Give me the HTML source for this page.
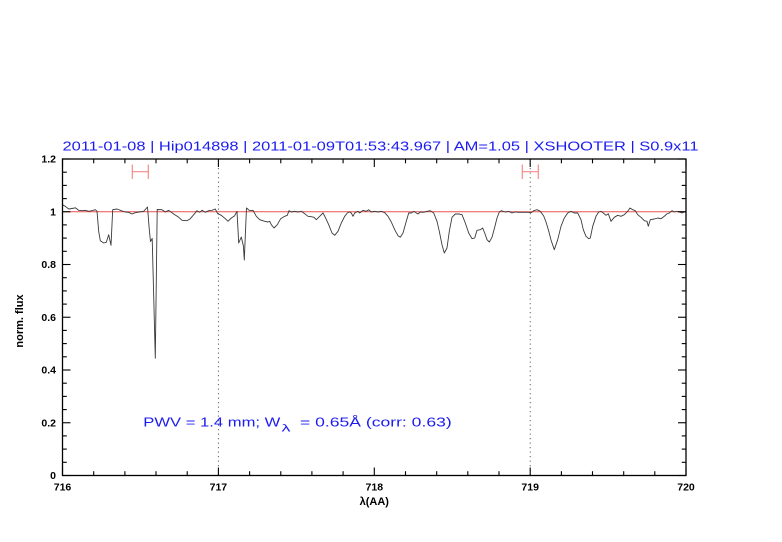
<!DOCTYPE html>
<html>
<head>
<meta charset="utf-8">
<style>
html,body{margin:0;padding:0;background:#fff;}
svg{display:block;}
text{font-family:"Liberation Sans",sans-serif;}
</style>
</head>
<body>
<svg width="782" height="542" viewBox="0 0 782 542" xmlns="http://www.w3.org/2000/svg">
<rect x="0" y="0" width="782" height="542" fill="#fff"/>

<!-- title -->
<text x="62.5" y="150.5" font-size="13" fill="#1c1cf0" textLength="636" lengthAdjust="spacingAndGlyphs">2011-01-08 | Hip014898 | 2011-01-09T01:53:43.967 | AM=1.05 | XSHOOTER | S0.9x11</text>

<!-- dotted verticals -->
<line x1="218.4" y1="159" x2="218.4" y2="475.5" stroke="#555" stroke-width="0.9" stroke-dasharray="1.2,3.3"/>
<line x1="530.2" y1="159" x2="530.2" y2="475.5" stroke="#555" stroke-width="0.9" stroke-dasharray="1.2,3.3"/>

<!-- reference line at 1 -->
<line x1="62.5" y1="211.7" x2="686" y2="211.7" stroke="#ee5050" stroke-width="1"/>

<!-- error bars -->
<g stroke="#f78a8a" stroke-width="1.2" fill="none">
<line x1="132.3" y1="171.7" x2="148.3" y2="171.7"/>
<line x1="132.3" y1="164.5" x2="132.3" y2="179"/>
<line x1="148.3" y1="164.5" x2="148.3" y2="179"/>
<line x1="522.3" y1="171.7" x2="538.3" y2="171.7"/>
<line x1="522.3" y1="164.5" x2="522.3" y2="179"/>
<line x1="538.3" y1="164.5" x2="538.3" y2="179"/>
</g>

<!-- spectrum -->
<polyline fill="none" stroke="#3a3a3a" stroke-width="0.9" stroke-linejoin="round" points="
62,204.5 65.3,206.3 68.7,209 72,208.5 75.3,207.8 78.7,210.3 82,210.7 85.3,210.3 88.7,211.3 92,210.7 95.3,209.7 97,211.3
98.7,231.3 100.3,240.7 103.7,243 106.3,242.3 108.7,234.7 111,245.3 112.7,209.7 117,209 121.3,210.7 125.3,212 128.7,212.3
132,214 135.3,212.7 139.3,212 143.7,211.3 147.5,207 149.3,229.7 150.5,241.5 152.2,238.5 155.3,358.3 157.2,209.5 162,209.7
165.3,212 168.7,210.3 173.7,214 178.7,217.3 182,220.3 187,220.7 190.3,218.7 193.7,214.7 197,210.7 199.7,212.3 202,210.3
205.3,212.3 208.7,210.7 212,210.3 215.3,209 217.7,213.7 221.3,215.3 225.3,218.7 228,221.3 231.3,218 234.7,215.7 237,211.3
238.7,243 241.3,237 243.4,246 244.3,260 245.5,231 246.5,208 249.7,210.7 253,210.3 256.3,216.3 259.7,219.7 264.7,221.3
268,222 269.7,221.3 271.3,224.7 274,228 277.3,224.7 280.7,218.7 284.7,216.3 287.3,215.3 289,210.7 291.3,212 294.7,211.3
298,212 301.3,211.3 304.7,213.7 308,216.3 311.3,216.7 314,217.3 316.3,219.7 319.7,216.3 323,213 325.3,217.3 328.7,224.7
332,233 334.7,235.3 338,231.3 341.3,223 344.7,216.3 347.3,213 349.7,212 351.3,213 353,216.3 354.7,213 358,211.3 359.7,213
363,210.3 366.3,211.3 368.7,209.7 371.3,212 374.7,211.3 378,212 381.3,211.3 384.7,212.7 388,216.3 391.3,222 394.7,229.7
398,235.7 400.3,237.3 403,233 406.3,221.3 408.7,213 411.3,213 414,211.3 416.3,213 418,214 420.3,212 423.7,212.3 427,211.3
430.3,210.7 433.7,213 437,221.3 439.3,231.3 442,244.7 444.3,253 447,248 449.3,231.3 452,217.3 455.3,214 458.7,214 462,214.7
465.3,223 468.7,233 472,238.7 474.7,238 477,230.3 480.3,229.7 482.7,228 484.7,233 487,239.7 489.3,242 492,237.3 494.7,227.3
497,218 499.3,212 501.3,210.7 505.3,212 508.7,211.3 512,213 515.3,212 518.7,212.3 523.7,212.3 528.7,212.3 531.3,212.7
533.7,210.7 537,209.7 540.3,211.3 543.7,216 546,222 548.7,231 551,240 554.3,249.7 557.7,239.7 561,226.3 564.3,218 567.7,213
571,211.3 574.3,213 577.7,213 581,219.7 583.3,229.7 586,236.3 588.7,238.7 590.3,238 592.7,226.3 596,216.3 598.7,212 601,211.3
603.3,213 606,215.3 608.3,213.7 611,221.3 614.3,217.3 617.7,215.3 621,216.3 624.3,214.7 627.7,211.3 630,208 632.7,209.7
635.3,210.7 637.7,214.7 641,217.3 644.3,220.7 647,221.3 648.3,226.3 650.3,219.7 654.3,219 657.7,218 661,218.7 664.3,216.3
666.7,214 669.3,213 672,210.7 674.3,212 676.7,211.3 679.3,212 682,213 684.3,212 686,211.3"/>

<!-- frame -->
<rect x="62.5" y="159" width="623.5" height="316.5" fill="none" stroke="#000" stroke-width="1.3"/>

<!-- x ticks (bottom & top) -->
<g stroke="#000" stroke-width="1.1">
<line x1="62.5" y1="475.5" x2="62.5" y2="467.5"/><line x1="62.5" y1="159" x2="62.5" y2="167"/>
<line x1="218.4" y1="475.5" x2="218.4" y2="467.5"/><line x1="218.4" y1="159" x2="218.4" y2="167"/>
<line x1="374.3" y1="475.5" x2="374.3" y2="467.5"/><line x1="374.3" y1="159" x2="374.3" y2="167"/>
<line x1="530.2" y1="475.5" x2="530.2" y2="467.5"/><line x1="530.2" y1="159" x2="530.2" y2="167"/>
<line x1="686" y1="475.5" x2="686" y2="467.5"/><line x1="686" y1="159" x2="686" y2="167"/>
<line x1="93.7" y1="475.5" x2="93.7" y2="471.2"/><line x1="93.7" y1="159" x2="93.7" y2="163.3"/>
<line x1="124.9" y1="475.5" x2="124.9" y2="471.2"/><line x1="124.9" y1="159" x2="124.9" y2="163.3"/>
<line x1="156.0" y1="475.5" x2="156.0" y2="471.2"/><line x1="156.0" y1="159" x2="156.0" y2="163.3"/>
<line x1="187.2" y1="475.5" x2="187.2" y2="471.2"/><line x1="187.2" y1="159" x2="187.2" y2="163.3"/>
<line x1="249.6" y1="475.5" x2="249.6" y2="471.2"/><line x1="249.6" y1="159" x2="249.6" y2="163.3"/>
<line x1="280.8" y1="475.5" x2="280.8" y2="471.2"/><line x1="280.8" y1="159" x2="280.8" y2="163.3"/>
<line x1="311.9" y1="475.5" x2="311.9" y2="471.2"/><line x1="311.9" y1="159" x2="311.9" y2="163.3"/>
<line x1="343.1" y1="475.5" x2="343.1" y2="471.2"/><line x1="343.1" y1="159" x2="343.1" y2="163.3"/>
<line x1="405.5" y1="475.5" x2="405.5" y2="471.2"/><line x1="405.5" y1="159" x2="405.5" y2="163.3"/>
<line x1="436.7" y1="475.5" x2="436.7" y2="471.2"/><line x1="436.7" y1="159" x2="436.7" y2="163.3"/>
<line x1="467.8" y1="475.5" x2="467.8" y2="471.2"/><line x1="467.8" y1="159" x2="467.8" y2="163.3"/>
<line x1="499.0" y1="475.5" x2="499.0" y2="471.2"/><line x1="499.0" y1="159" x2="499.0" y2="163.3"/>
<line x1="561.4" y1="475.5" x2="561.4" y2="471.2"/><line x1="561.4" y1="159" x2="561.4" y2="163.3"/>
<line x1="592.5" y1="475.5" x2="592.5" y2="471.2"/><line x1="592.5" y1="159" x2="592.5" y2="163.3"/>
<line x1="623.7" y1="475.5" x2="623.7" y2="471.2"/><line x1="623.7" y1="159" x2="623.7" y2="163.3"/>
<line x1="654.8" y1="475.5" x2="654.8" y2="471.2"/><line x1="654.8" y1="159" x2="654.8" y2="163.3"/>
</g>

<!-- y ticks (left & right) -->
<g stroke="#000" stroke-width="1.1">
<line x1="62.5" y1="475.5" x2="70.5" y2="475.5"/><line x1="686" y1="475.5" x2="678" y2="475.5"/>
<line x1="62.5" y1="422.75" x2="70.5" y2="422.75"/><line x1="686" y1="422.75" x2="678" y2="422.75"/>
<line x1="62.5" y1="370" x2="70.5" y2="370"/><line x1="686" y1="370" x2="678" y2="370"/>
<line x1="62.5" y1="317.25" x2="70.5" y2="317.25"/><line x1="686" y1="317.25" x2="678" y2="317.25"/>
<line x1="62.5" y1="264.5" x2="70.5" y2="264.5"/><line x1="686" y1="264.5" x2="678" y2="264.5"/>
<line x1="62.5" y1="211.75" x2="70.5" y2="211.75"/><line x1="686" y1="211.75" x2="678" y2="211.75"/>
<line x1="62.5" y1="159" x2="70.5" y2="159"/><line x1="686" y1="159" x2="678" y2="159"/>
<line x1="62.5" y1="462.3" x2="66.8" y2="462.3"/><line x1="686" y1="462.3" x2="681.7" y2="462.3"/>
<line x1="62.5" y1="449.1" x2="66.8" y2="449.1"/><line x1="686" y1="449.1" x2="681.7" y2="449.1"/>
<line x1="62.5" y1="435.9" x2="66.8" y2="435.9"/><line x1="686" y1="435.9" x2="681.7" y2="435.9"/>
<line x1="62.5" y1="409.6" x2="66.8" y2="409.6"/><line x1="686" y1="409.6" x2="681.7" y2="409.6"/>
<line x1="62.5" y1="396.4" x2="66.8" y2="396.4"/><line x1="686" y1="396.4" x2="681.7" y2="396.4"/>
<line x1="62.5" y1="383.2" x2="66.8" y2="383.2"/><line x1="686" y1="383.2" x2="681.7" y2="383.2"/>
<line x1="62.5" y1="356.8" x2="66.8" y2="356.8"/><line x1="686" y1="356.8" x2="681.7" y2="356.8"/>
<line x1="62.5" y1="343.6" x2="66.8" y2="343.6"/><line x1="686" y1="343.6" x2="681.7" y2="343.6"/>
<line x1="62.5" y1="330.4" x2="66.8" y2="330.4"/><line x1="686" y1="330.4" x2="681.7" y2="330.4"/>
<line x1="62.5" y1="304.1" x2="66.8" y2="304.1"/><line x1="686" y1="304.1" x2="681.7" y2="304.1"/>
<line x1="62.5" y1="290.9" x2="66.8" y2="290.9"/><line x1="686" y1="290.9" x2="681.7" y2="290.9"/>
<line x1="62.5" y1="277.7" x2="66.8" y2="277.7"/><line x1="686" y1="277.7" x2="681.7" y2="277.7"/>
<line x1="62.5" y1="251.3" x2="66.8" y2="251.3"/><line x1="686" y1="251.3" x2="681.7" y2="251.3"/>
<line x1="62.5" y1="238.1" x2="66.8" y2="238.1"/><line x1="686" y1="238.1" x2="681.7" y2="238.1"/>
<line x1="62.5" y1="224.9" x2="66.8" y2="224.9"/><line x1="686" y1="224.9" x2="681.7" y2="224.9"/>
<line x1="62.5" y1="198.6" x2="66.8" y2="198.6"/><line x1="686" y1="198.6" x2="681.7" y2="198.6"/>
<line x1="62.5" y1="185.4" x2="66.8" y2="185.4"/><line x1="686" y1="185.4" x2="681.7" y2="185.4"/>
<line x1="62.5" y1="172.2" x2="66.8" y2="172.2"/><line x1="686" y1="172.2" x2="681.7" y2="172.2"/>
</g>

<!-- y tick labels -->
<g font-size="10.5" font-weight="bold" fill="#000" text-anchor="end">
<text x="56" y="479">0</text>
<text x="56" y="426.5">0.2</text>
<text x="56" y="373.7">0.4</text>
<text x="56" y="321">0.6</text>
<text x="56" y="268.2">0.8</text>
<text x="56" y="215.5">1</text>
<text x="56" y="162.7">1.2</text>
</g>

<!-- x tick labels -->
<g font-size="10.5" font-weight="bold" fill="#000" text-anchor="middle">
<text x="62.5" y="490.5">716</text>
<text x="218.4" y="490.5">717</text>
<text x="374.3" y="490.5">718</text>
<text x="530.2" y="490.5">719</text>
<text x="686" y="490.5">720</text>
</g>

<!-- axis labels -->
<text x="374.3" y="505" font-size="11" font-weight="bold" fill="#000" text-anchor="middle">λ(AA)</text>
<text transform="translate(23,321) rotate(-90)" x="0" y="0" font-size="11" font-weight="bold" fill="#000" text-anchor="middle">norm. flux</text>

<!-- annotation -->
<g fill="#1c1cf0">
<text x="143.3" y="426.7" font-size="12.5" textLength="137" lengthAdjust="spacingAndGlyphs">PWV  =  1.4  mm;  W</text>
<text x="281.5" y="431.5" font-size="10.5" textLength="9" lengthAdjust="spacingAndGlyphs">λ</text>
<text x="300" y="426.7" font-size="12.5" textLength="151.7" lengthAdjust="spacingAndGlyphs">=  0.65Å  (corr:  0.63)</text>
</g>
</svg>
</body>
</html>
